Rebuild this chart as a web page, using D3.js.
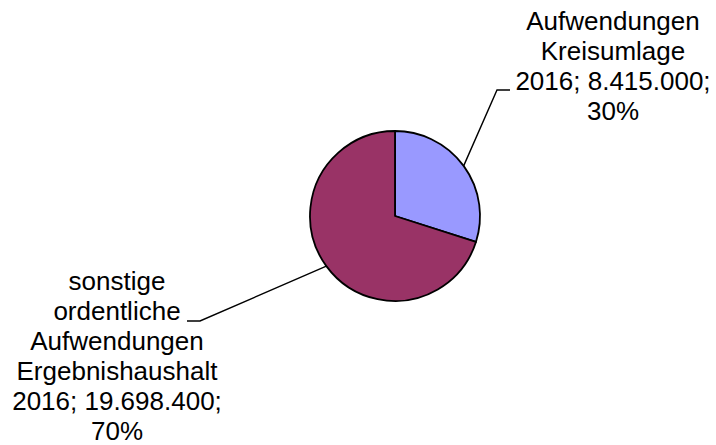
<!DOCTYPE html>
<html>
<head>
<meta charset="utf-8">
<script src="https://cdn.jsdelivr.net/npm/d3@7.9.0/dist/d3.min.js"></script>
<style>
  body { margin: 0; background: #fff; }
  svg text { font-family: "Liberation Sans", Arial, sans-serif; font-size: 26px; fill: #000; }
</style>
</head>
<body>
<svg id="chart" width="716" height="445"></svg>
<script>
const categories = [
  ["Aufwendungen", "Kreisumlage"],
  ["sonstige", "ordentliche", "Aufwendungen", "Ergebnishaushalt"]
];
const year = "2016";
const values = [8415000, 19698400];
const colors = ["#9999FF", "#993366"];

// label placement (text centre x, first baseline y, elbow of leader line)
const labelPos = [
  { x: 613, y: 30, lineY: 90, elbowX: 497, endX: 510 },
  { x: 117, y: 290, lineY: 321, elbowX: 200, endX: 187 }
];

const width = 716, height = 445;
const cx = 395, cy = 216, radius = 85;
const lineH = 30;

const de = d3.formatLocale({ decimal: ",", thousands: ".", grouping: [3], currency: ["", " €"] });
const fmt = de.format(",d");

const svg = d3.select("#chart");
const g = svg.append("g").attr("transform", `translate(${cx},${cy})`);

const total = d3.sum(values);
const pie = d3.pie().sort(null).value(d => d)(values);
const arc = d3.arc().innerRadius(0).outerRadius(radius);
const edge = d3.arc().innerRadius(radius).outerRadius(radius);

g.selectAll("path")
  .data(pie)
  .join("path")
  .attr("d", arc)
  .attr("fill", (d, i) => colors[i])
  .attr("stroke", "#000")
  .attr("stroke-width", 1.8)
  .attr("stroke-linejoin", "round");

pie.forEach((d, i) => {
  const p = labelPos[i];
  const [ex, ey] = edge.centroid(d);
  svg.append("polyline")
    .attr("points", [[cx + ex, cy + ey], [p.elbowX, p.lineY], [p.endX, p.lineY]].map(q => q.join(",")).join(" "))
    .attr("fill", "none")
    .attr("stroke", "#000")
    .attr("stroke-width", 1.4);

  const lines = categories[i].concat([
    `${year}; ${fmt(values[i])};`,
    `${Math.round(values[i] / total * 100)}%`
  ]);
  const t = svg.append("text").attr("text-anchor", "middle");
  lines.forEach((s, k) => {
    t.append("tspan").attr("x", p.x).attr("y", p.y + k * lineH).text(s);
  });
});
</script>
</body>
</html>
